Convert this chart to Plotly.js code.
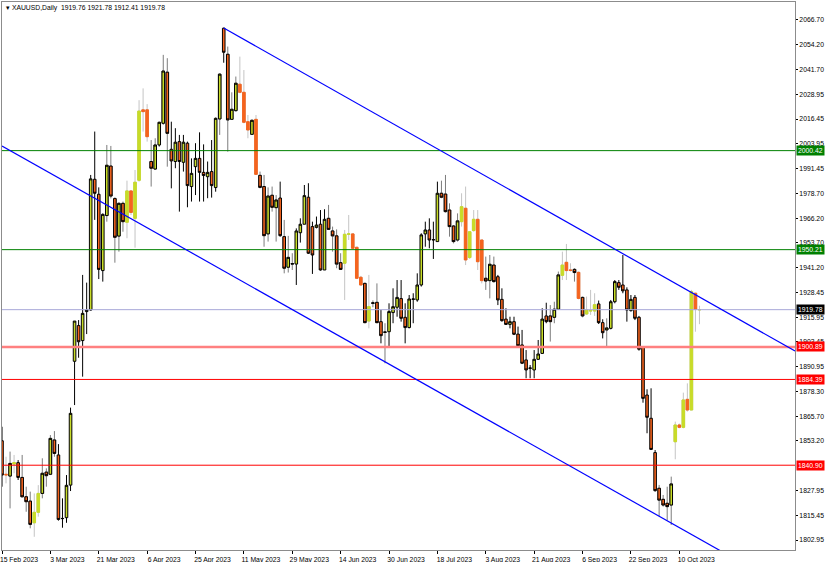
<!DOCTYPE html>
<html>
<head>
<meta charset="utf-8">
<script src="https://cdn.plot.ly/plotly-3.0.1.min.js"></script>
<style>
html,body{margin:0;padding:0;background:#fff;}
#chart{width:828px;height:562px;}
</style>
</head>
<body>
<div id="chart"></div>
<script>
// ---- Data (XAUUSD, Daily) ----
const open = [1853.3,1836.3,1835.4,1841.5,1842.2,1834.7,1824.9,1822.7,1811.7,1817.0,1826.6,1837.4,1836.3,1853.7,1846.1,1813.8,1814.3,1830.8,1893.6,1911.7,1904.1,1918.8,1919.6,1985.9,1978.3,1939.6,1967.5,1992.6,1976.1,1957.1,1973.7,1964.1,1980.0,1966.1,1985.4,2021.1,2021.1,1994.9,1991.1,2003.3,2014.3,2040.2,2001.1,1994.9,2005.0,1994.5,2004.2,1982.2,1992.3,1996.5,1989.4,1987.2,1989.8,1981.7,2016.5,2062.5,2049.3,2016.3,2020.7,2034.1,2030.0,2015.1,2008.7,2016.3,1987.9,1982.2,1958.2,1977.8,1971.5,1976.4,1956.8,1941.3,1942.9,1942.9,1958.8,1963.1,1976.8,1961.9,1961.5,1963.1,1939.9,1966.1,1959.7,1957.2,1943.6,1943.3,1958.0,1958.2,1951.4,1936.2,1933.1,1914.0,1923.0,1923.5,1913.7,1908.3,1908.6,1918.3,1921.0,1925.4,1915.9,1910.7,1925.0,1924.7,1932.3,1958.2,1960.2,1955.1,1954.3,1978.8,1978.4,1970.3,1962.2,1955.1,1964.4,1971.2,1946.2,1959.9,1965.6,1955.1,1935.7,1934.5,1942.4,1936.5,1925.0,1915.0,1912.3,1913.7,1907.4,1901.9,1894.3,1890.0,1889.2,1894.6,1897.6,1916.6,1916.6,1915.9,1920.0,1937.2,1943.8,1939.9,1940.2,1938.7,1926.0,1917.6,1919.1,1919.1,1922.7,1913.2,1909.5,1910.3,1923.8,1933.5,1932.3,1929.8,1919.3,1926.0,1915.9,1900.7,1876.5,1864.7,1847.3,1829.2,1823.6,1821.6,1820.7,1852.8,1861.3,1860.1,1874.3,1868.9,1928.1,1919.76];
const high = [1860.4,1845.2,1847.8,1846.1,1843.5,1846.1,1830.0,1827.5,1826.6,1830.8,1844.4,1839.3,1856.2,1858.2,1851.6,1824.1,1835.9,1870.1,1914.0,1914.5,1937.4,1933.5,1988.1,2010.1,1981.8,1968.6,2003.3,2002.8,1976.8,1974.2,1974.6,1985.2,1980.0,1990.6,2026.0,2032.0,2024.0,2005.8,2006.7,2015.1,2049.0,2047.3,2015.1,2011.8,2008.4,2008.4,2005.0,1996.5,2004.2,2009.7,2003.6,1994.9,2005.8,2017.2,2039.7,2062.8,2053.2,2030.0,2038.0,2048.1,2041.3,2018.5,2016.3,2018.5,1989.8,1988.1,1981.8,1982.2,1977.9,1984.7,1965.3,1957.2,1948.4,1961.0,1966.1,1983.0,1983.9,1964.4,1967.0,1970.3,1970.7,1972.9,1961.9,1960.5,1948.4,1960.2,1967.8,1958.5,1951.7,1936.9,1933.5,1937.4,1924.5,1933.1,1919.6,1912.9,1923.0,1930.6,1934.8,1934.8,1923.0,1927.2,1928.1,1938.2,1958.5,1964.4,1966.1,1964.4,1984.7,1985.2,1988.1,1973.7,1962.7,1968.6,1978.8,1982.2,1959.3,1970.3,1970.3,1955.1,1946.7,1947.5,1946.7,1937.4,1930.6,1920.5,1916.2,1916.2,1911.2,1909.5,1899.3,1891.7,1899.3,1904.4,1920.5,1923.3,1922.1,1923.8,1939.1,1949.2,1953.1,1943.3,1940.8,1939.1,1926.4,1926.4,1929.8,1928.1,1924.4,1914.9,1915.4,1924.7,1934.8,1934.8,1947.5,1931.1,1927.2,1927.2,1916.6,1901.0,1879.4,1879.9,1848.6,1830.9,1825.8,1830.0,1835.1,1863.0,1862.0,1877.7,1882.4,1929.8,1928.4,1921.78];
const low = [1830.0,1831.7,1819.0,1836.8,1833.4,1824.5,1817.3,1808.9,1804.6,1814.8,1824.1,1830.0,1835.9,1845.2,1812.8,1809.2,1811.7,1827.8,1871.4,1895.4,1885.8,1907.4,1919.3,1965.3,1935.3,1934.0,1964.4,1976.2,1943.6,1949.2,1959.3,1956.0,1967.8,1951.2,1984.7,2010.1,2005.0,1982.2,1990.6,2002.5,2013.5,1992.3,1981.3,1991.5,1969.5,1989.8,1971.7,1974.6,1977.9,1974.6,1974.6,1976.3,1976.6,1979.6,2008.4,2045.0,1999.9,2016.0,2020.2,2029.5,2014.3,2006.7,2008.4,1988.1,1981.3,1951.7,1954.3,1969.5,1954.3,1956.8,1938.2,1938.6,1939.9,1932.3,1953.8,1963.1,1948.0,1937.9,1961.0,1939.6,1939.9,1960.2,1949.2,1940.8,1939.9,1924.7,1955.1,1950.6,1935.3,1932.0,1912.9,1910.3,1921.0,1912.9,1902.7,1892.6,1901.0,1912.9,1916.2,1913.7,1902.7,1910.3,1912.9,1923.8,1931.5,1951.7,1950.9,1945.5,1954.3,1976.3,1969.0,1956.8,1953.4,1954.3,1961.9,1942.4,1945.5,1959.3,1939.9,1933.1,1929.8,1925.5,1933.5,1922.1,1913.7,1912.0,1910.3,1906.9,1901.0,1892.2,1885.0,1885.0,1885.0,1894.3,1897.3,1912.9,1903.6,1912.9,1919.6,1934.8,1934.8,1939.1,1934.0,1925.0,1915.9,1917.1,1917.1,1916.6,1912.5,1905.2,1901.0,1909.8,1923.0,1929.8,1928.1,1913.7,1918.8,1914.5,1899.0,1872.6,1857.1,1848.6,1827.5,1815.1,1819.9,1813.1,1810.6,1843.9,1859.6,1859.6,1868.1,1868.9,1908.6,1912.41];
const close = [1835.9,1836.0,1841.8,1842.2,1834.7,1824.9,1822.4,1810.9,1817.0,1826.6,1836.8,1835.6,1854.5,1846.9,1813.4,1813.9,1830.7,1867.2,1914.0,1903.5,1917.9,1919.6,1986.1,1978.8,1940.2,1968.1,1993.0,1977.4,1956.5,1973.7,1964.4,1980.0,1969.1,1984.4,2020.5,2020.2,2007.5,1991.5,2003.3,2014.8,2040.8,2009.2,1995.2,2004.7,1994.9,2004.7,1982.7,1988.9,1996.5,1989.4,1987.8,1989.4,1982.7,2016.8,2039.2,2050.3,2016.0,2021.4,2034.6,2030.0,2014.8,2010.9,2015.8,1988.4,1981.8,1957.3,1977.4,1971.7,1975.4,1957.3,1940.8,1946.3,1943.1,1959.7,1963.1,1977.6,1948.4,1947.5,1962.7,1939.9,1965.6,1960.5,1957.2,1942.9,1940.2,1958.0,1958.2,1950.9,1935.7,1932.3,1913.2,1921.3,1923.2,1913.2,1906.6,1908.4,1918.8,1921.3,1926.0,1915.4,1910.7,1925.2,1925.2,1932.3,1957.7,1960.2,1955.1,1955.3,1978.8,1976.8,1969.5,1961.9,1954.3,1964.8,1972.0,1945.0,1959.3,1965.6,1944.1,1934.5,1934.3,1942.8,1934.0,1924.7,1914.2,1912.3,1913.7,1907.3,1901.5,1892.6,1889.2,1890.2,1894.6,1897.3,1915.0,1913.7,1913.7,1920.0,1937.4,1942.4,1939.6,1939.7,1938.6,1925.5,1916.6,1919.6,1919.3,1922.3,1913.2,1908.1,1910.5,1923.8,1934.0,1931.1,1929.3,1919.6,1925.0,1915.4,1899.7,1874.8,1865.2,1848.9,1828.0,1823.2,1820.7,1819.9,1831.4,1861.3,1860.1,1874.0,1868.9,1928.9,1920.0,1919.78];
// tick-volume class of each bar as shaded in the reference (0 = high, 1 = mid, 2 = low)
const volumeClass = [
  0,2,1,2,0,1,1,1,2,2,1,1,1,1,0,0,0,0,0,0,0,0,0,0,0,0,1,1,1,1,1,2,2,2,2,2,
  2,1,1,0,1,1,0,0,0,0,0,0,0,0,0,0,0,0,1,0,1,1,1,2,2,2,1,2,1,1,1,1,1,0,1,
  1,1,0,0,0,0,0,0,0,0,1,1,1,1,2,2,2,2,2,1,2,1,1,0,1,0,0,0,0,0,0,0,0,0,
  0,0,0,0,1,1,1,1,1,2,2,2,2,2,2,1,1,1,0,0,0,0,0,0,0,0,0,0,0,0,0,1,1,1,2,
  2,2,1,2,1,2,2,2,0,0,1,0,0,0,0,0,0,0,0,0,0,0,0,1,1,1,1,2,2,2,2,2,2,2
];

// date labels, one every 12 bars
const dateLabels = ["15 Feb 2023","3 Mar 2023","21 Mar 2023","6 Apr 2023","25 Apr 2023","11 May 2023","29 May 2023","14 Jun 2023","30 Jun 2023","18 Jul 2023","3 Aug 2023","21 Aug 2023","6 Sep 2023","22 Sep 2023","10 Oct 2023"];
const barsPerLabel = 12;

// price scale labels
const priceTicks = [2066.70,2054.20,2041.70,2028.95,2016.45,2003.95,1991.45,1978.70,1966.20,1953.70,1941.20,1928.45,1915.95,1903.45,1890.95,1878.30,1865.70,1853.20,1827.95,1815.45,1802.95];

// horizontal levels
const greenLevels = [2000.42, 1950.21];
const redLevels = [1884.39, 1840.90];
const zoneLevel = [1900.89];
const lastPrice = [1919.78];

// channel lines: [bar, price] pairs
const upperChannel = [[55, 2062.6], [196.7, 1898.8]];
const lowerChannel = [[0, 2002.8], [196.7, 1776.2]];

const header = ["XAUUSD,Daily", "1919.76", "1921.78", "1912.41", "1919.78"];

// ---- Build chart ----
const FONT = "Liberation Sans";
const FS = 6.8;
const UP = "#c8dc28", DOWN = "#f5641e";
const wickColors = ["#000000", "#7c7c7c", "#c4c4c4"];

const traces = [];
// full candles (wick colour) per class
[0, 1, 2].forEach(t => {
  const idx = open.map((_, i) => i).filter(i => volumeClass[i] === t);
  traces.push({
    type: "candlestick",
    x: idx, open: idx.map(i => open[i]), high: idx.map(i => high[i]),
    low: idx.map(i => low[i]), close: idx.map(i => close[i]),
    increasing: {line: {color: wickColors[t], width: 1}, fillcolor: UP},
    decreasing: {line: {color: wickColors[t], width: 1}, fillcolor: DOWN},
    whiskerwidth: 0, hoverinfo: "skip"
  });
});
// bodies redrawn on top: class 1 with black outline, class 2 without outline
[1, 2].forEach(t => {
  const idx = open.map((_, i) => i).filter(i => volumeClass[i] === t);
  traces.push({
    type: "candlestick",
    x: idx, open: idx.map(i => open[i]), close: idx.map(i => close[i]),
    high: idx.map(i => Math.max(open[i], close[i])),
    low: idx.map(i => Math.min(open[i], close[i])),
    increasing: {line: {color: t === 1 ? "#000000" : UP, width: 1}, fillcolor: UP},
    decreasing: {line: {color: t === 1 ? "#000000" : DOWN, width: 1}, fillcolor: DOWN},
    whiskerwidth: 0, hoverinfo: "skip"
  });
});

const shapes = [];
function hline(y, color, width) {
  shapes.push({type: "line", xref: "paper", yref: "y", x0: 0, x1: 1, y0: y, y1: y,
    line: {color: color, width: width}, layer: "above"});
}
greenLevels.forEach(v => hline(v, "#008000", 1));
redLevels.forEach(v => hline(v, "#ff0000", 1));
zoneLevel.forEach(v => hline(v, "#ff8080", 2.5));
lastPrice.forEach(v => hline(v, "#a8a8d8", 1));
[upperChannel, lowerChannel].forEach(c => {
  shapes.push({type: "line", xref: "x", yref: "y", x0: c[0][0], y0: c[0][1], x1: c[1][0], y1: c[1][1],
    line: {color: "#0000ff", width: 1.2}, layer: "above"});
});

const annotations = [];
function tag(y, bg) {
  annotations.push({xref: "paper", yref: "y", x: 1, y: y, xanchor: "left", yanchor: "middle",
    xshift: 1, text: y.toFixed(2), showarrow: false, bgcolor: bg, borderpad: 1,
    font: {family: FONT, size: FS, color: "#ffffff"}});
}
greenLevels.forEach(v => tag(v, "#008000"));
redLevels.forEach(v => tag(v, "#ff0000"));
zoneLevel.forEach(v => tag(v, "#ff0000"));
lastPrice.forEach(v => tag(v, "#000000"));
annotations.push({xref: "paper", yref: "paper", x: 0, y: 1, xanchor: "left", yanchor: "top",
  xshift: 2, yshift: 0, showarrow: false,
  text: "\u25BE " + header[0] + "  " + header.slice(1).join(" "),
  font: {family: FONT, size: FS, color: "#000000"}});

const layout = {
  width: 828, height: 562,
  margin: {l: 2, r: 33, t: 2, b: 12, pad: 0},
  paper_bgcolor: "#ffffff", plot_bgcolor: "#ffffff",
  showlegend: false,
  boxmode: "overlay", boxgap: 0.2, boxgroupgap: 0.2,
  xaxis: {
    range: [0, 196.7], rangeslider: {visible: false},
    showgrid: false, zeroline: false,
    showline: true, mirror: true, linecolor: "#8c8c8c", linewidth: 1,
    ticks: "outside", ticklen: 3, tickcolor: "#000000",
    tickvals: dateLabels.map((_, k) => k * barsPerLabel), ticktext: dateLabels,
    ticklabelshift: 17, ticklabelstandoff: 0, ticklabeloverflow: "allow",
    tickfont: {family: FONT, size: FS, color: "#000000"},
    fixedrange: true
  },
  yaxis: {
    side: "right", range: [1797.9, 2075.8],
    showgrid: false, zeroline: false,
    showline: true, mirror: true, linecolor: "#8c8c8c", linewidth: 1,
    ticks: "outside", ticklen: 2, tickcolor: "#000000",
    tickvals: priceTicks, ticktext: priceTicks.map(v => v.toFixed(2)),
    tickfont: {family: FONT, size: FS, color: "#000000"},
    fixedrange: true
  },
  shapes: shapes,
  annotations: annotations
};

Plotly.newPlot("chart", traces, layout, {staticPlot: true, displayModeBar: false});
</script>
</body>
</html>
